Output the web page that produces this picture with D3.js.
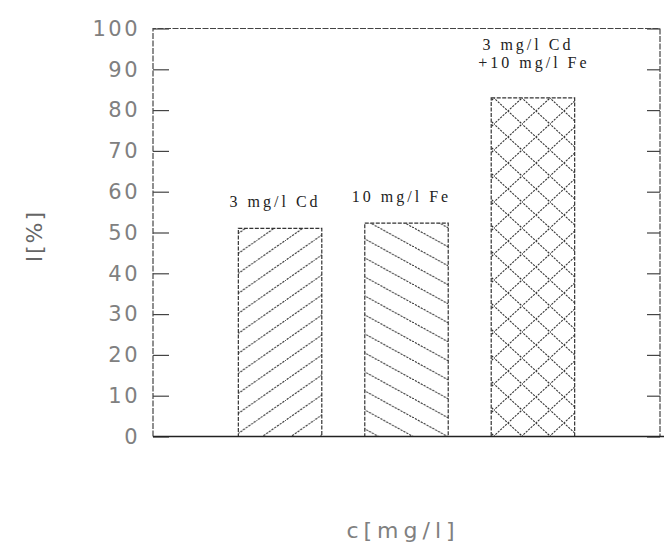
<!DOCTYPE html>
<html>
<head>
<meta charset="utf-8">
<script src="https://cdn.jsdelivr.net/npm/d3@7"></script>
<style>
  html, body { margin: 0; padding: 0; background: #fff; }
  svg { display: block; }
</style>
</head>
<body>
<svg id="chart" width="664" height="549"></svg>
<script>
// data
const categories = ['3 mg/l Cd', '10 mg/l Fe', '3 mg/l Cd +10 mg/l Fe'];
const values = [51, 52.3, 83];
const barLabels = [['3 mg/l Cd'], ['10 mg/l Fe'], ['3 mg/l Cd', '+10 mg/l Fe']];
const patterns = ['hatchUp', 'hatchDown', 'crossHatch'];
const yTicks = [0, 10, 20, 30, 40, 50, 60, 70, 80, 90, 100];

const cfg = {
  left: 153,
  right: 660,
  top: 28.5,
  bottom: 436.5,
  ink: '#333',
  grey: '#808080'
};

const svg = d3.select('svg#chart');

function addPatterns(svg) {
  const defs = svg.append('defs');

  // "/" lines
  const p1 = defs.append('pattern').attr('id', 'hatchUp')
    .attr('patternUnits', 'userSpaceOnUse')
    .attr('width', 28.6).attr('height', 20);
  p1.append('path').attr('d', 'M-2,21.4L30.6,-1.4');

  // "\" lines
  const p2 = defs.append('pattern').attr('id', 'hatchDown')
    .attr('patternUnits', 'userSpaceOnUse')
    .attr('width', 34.5).attr('height', 19);
  p2.append('path').attr('d', 'M-2,-1.1L36.5,20.1');

  // diamond lattice
  const p3 = defs.append('pattern').attr('id', 'crossHatch')
    .attr('patternUnits', 'userSpaceOnUse')
    .attr('x', 494).attr('y', 98)
    .attr('width', 28).attr('height', 26);
  p3.append('path').attr('d', 'M-1,26.9L29,-0.9M-1,-0.9L29,26.9');

  defs.selectAll('pattern path')
    .attr('stroke', cfg.ink)
    .attr('stroke-width', 1.1)
    .attr('stroke-dasharray', '2.2,1.1')
    .attr('fill', 'none');
}

addPatterns(svg);

const x = d3.scaleBand()
  .domain(categories)
  .range([cfg.left, cfg.right])
  .paddingInner(0.34)
  .paddingOuter(0.675);

const y = d3.scaleLinear()
  .domain([0, 100])
  .range([cfg.bottom, cfg.top]);

// left axis, ticks pointing inward
const gLeft = svg.append('g')
  .attr('transform', `translate(${cfg.left},0)`)
  .call(d3.axisLeft(y).tickValues(yTicks).tickSize(-16).tickPadding(13));

// right axis, ticks only
const gRight = svg.append('g')
  .attr('transform', `translate(${cfg.right},0)`)
  .call(d3.axisRight(y).tickValues(yTicks).tickSize(-13).tickFormat(''));

[gLeft, gRight].forEach(g => {
  g.select('.domain').remove();
  g.selectAll('.tick line')
    .attr('stroke', '#444')
    .attr('stroke-width', 1.2);
});

gLeft.selectAll('.tick text')
  .attr('fill', cfg.grey)
  .attr('font-family', 'DejaVu Sans')
  .attr('font-size', 21)
  .attr('letter-spacing', 2.5);

// frame
svg.append('path')
  .attr('d', `M${cfg.left},${cfg.bottom}V${cfg.top}H${cfg.right}V${cfg.bottom}`)
  .attr('fill', 'none')
  .attr('stroke', '#444')
  .attr('stroke-width', 1.2)
  .attr('stroke-dasharray', '6,1.5');

// bars
svg.append('g')
  .selectAll('rect')
  .data(categories)
  .join('rect')
  .attr('x', d => x(d))
  .attr('y', (d, i) => y(values[i]))
  .attr('width', x.bandwidth())
  .attr('height', (d, i) => y(0) - y(values[i]))
  .attr('fill', (d, i) => `url(#${patterns[i]})`)
  .attr('stroke', cfg.ink)
  .attr('stroke-width', 1.2)
  .attr('stroke-dasharray', '4,1.5');

// baseline
svg.append('line')
  .attr('x1', cfg.left).attr('x2', 664)
  .attr('y1', cfg.bottom).attr('y2', cfg.bottom)
  .attr('stroke', '#222')
  .attr('stroke-width', 1.6);

// bar labels
svg.append('g')
  .selectAll('text')
  .data(categories)
  .join('text')
  .attr('y', (d, i) => y(values[i]) - 21 - 18 * (barLabels[i].length - 1) - (barLabels[i].length > 1 ? 9 : 0))
  .attr('text-anchor', 'middle')
  .attr('font-family', 'Liberation Serif')
  .attr('font-size', 16)
  .attr('letter-spacing', 3)
  .attr('fill', '#222')
  .selectAll('tspan')
  .data((d, i) => barLabels[i].map((t, j) => ({t, j, x: x(d) + x.bandwidth() / 2 - 5 + j * 6})))
  .join('tspan')
  .attr('x', d => d.x)
  .attr('dy', d => (d.j ? 18 : 0))
  .text(d => d.t);

// axis titles
svg.append('text')
  .attr('transform', 'translate(42,236) rotate(-90)')
  .attr('text-anchor', 'middle')
  .attr('font-family', 'DejaVu Sans')
  .attr('font-size', 22)
  .attr('letter-spacing', 2)
  .attr('fill', '#666')
  .text('l[%]');

svg.append('text')
  .attr('x', 403)
  .attr('y', 538)
  .attr('text-anchor', 'middle')
  .attr('font-family', 'DejaVu Sans')
  .attr('font-size', 22)
  .attr('letter-spacing', 5)
  .attr('fill', cfg.grey)
  .text('c[mg/l]');
</script>
</body>
</html>
